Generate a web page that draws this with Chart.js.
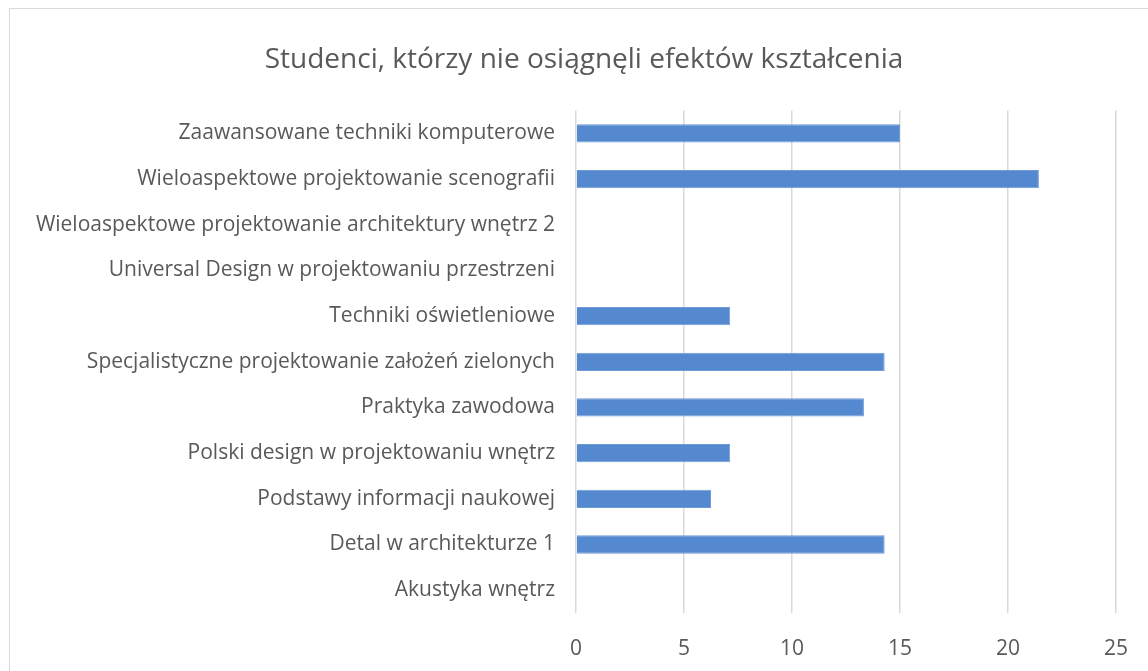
<!DOCTYPE html>
<html>
<head>
<meta charset="utf-8">
<script src="https://cdn.jsdelivr.net/npm/chart.js@4"></script>
<style>
  html, body { margin:0; padding:0; background:#fff; overflow:hidden; }
  #frame { position:absolute; left:9px; top:8px; width:1200px; height:700px; border:1px solid #d9d9d9; }
  #myChart { position:absolute; left:0; top:0; }
</style>
</head>
<body>
<div id="frame"></div>
<canvas id="myChart" width="1148" height="671"></canvas>
<script>
        // categories from top to bottom
        const categories = [
            'Zaawansowane techniki komputerowe',
            'Wieloaspektowe projektowanie scenografii',
            'Wieloaspektowe projektowanie architektury wnętrz 2',
            'Universal Design w projektowaniu przestrzeni',
            'Techniki oświetleniowe',
            'Specjalistyczne projektowanie założeń zielonych',
            'Praktyka zawodowa',
            'Polski design w projektowaniu wnętrz',
            'Podstawy informacji naukowej',
            'Detal w architekturze 1',
            'Akustyka wnętrz'
        ];
        const values = [15, 21.43, 0, 0, 7.14, 14.29, 13.33, 7.14, 6.25, 14.29, 0];
        const xTicks = [0, 5, 10, 15, 20, 25];

        const titleText = 'Studenci, którzy nie osiągnęli efektów kształcenia';
        const fontFam = '"Open Sans", sans-serif';

        // nudge the title to the right, it is centred on the outer frame in the original
        const shiftTitle = {
            id: 'shiftTitle',
            afterLayout: (chart) => {
                const t = chart.titleBlock;
                if (t) { t.left += 26; t.right += 26; }
            }
        };

        let ctx = document.getElementById('myChart').getContext('2d');

        new Chart(ctx, {
            type: 'bar',
            data: {
                labels: categories,
                datasets: [{
                    data: values,
                    backgroundColor: '#5589cf',
                    borderColor: '#6f9ad6',
                    borderWidth: 1,
                    barPercentage: 0.4,
                    categoryPercentage: 1
                }]
            },
            options: {
                indexAxis: 'y',
                responsive: false,
                animation: false,
                layout: { padding: { top: 43, right: 32, left: 0, bottom: 0 } },
                plugins: {
                    legend: { display: false },
                    tooltip: { enabled: false },
                    title: {
                        display: true,
                        text: titleText,
                        color: '#595959',
                        font: { family: fontFam, size: 28, weight: 'normal' },
                        padding: { top: 0, bottom: 34 }
                    }
                },
                scales: {
                    x: {
                        min: 0,
                        max: 25,
                        afterBuildTicks: (s) => { s.ticks = xTicks.map(v => ({ value: v })); },
                        afterFit: (s) => { s.height = 58; s.paddingRight = 0; s.paddingLeft = 0; },
                        grid: { color: '#d9d9d9', lineWidth: 1.5, drawTicks: false },
                        border: { display: false },
                        ticks: {
                            color: '#595959',
                            padding: 23,
                            font: { family: fontFam, size: 21 }
                        }
                    },
                    y: {
                        afterFit: (s) => { s.width = 576; },
                        grid: { display: false },
                        border: { display: false },
                        ticks: {
                            color: '#595959',
                            padding: 13,
                            font: { family: fontFam, size: 21 }
                        }
                    }
                }
            },
            plugins: [shiftTitle]
        });
</script>
</body>
</html>
